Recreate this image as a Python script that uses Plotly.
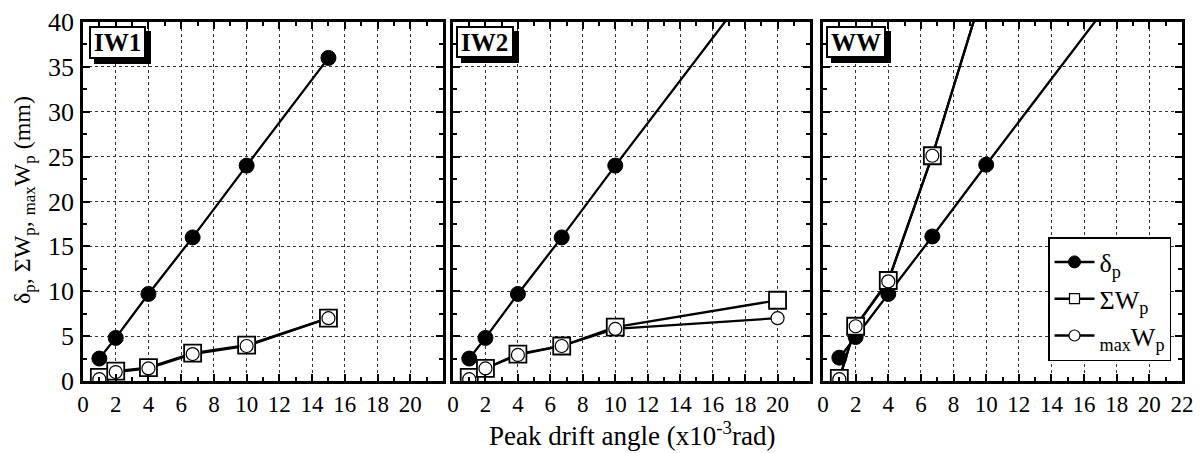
import plotly.graph_objects as go

# ---------------- data ----------------
panel_names = ["IW1", "IW2", "WW"]

x_iw1 = [1, 2, 4, 6.7, 10, 15]
dp_iw1 = [2.5, 4.8, 9.7, 16.0, 24.0, 36.0]
sw_iw1 = [0.4, 1.1, 1.5, 3.1, 4.0, 7.0]
mw_iw1 = [0.2, 1.0, 1.4, 3.0, 3.9, 7.0]

x_iw2 = [1, 2, 4, 6.7, 10, 20]
dp_iw2 = [2.5, 4.8, 9.7, 16.0, 24.0, 47.7]
sw_iw2 = [0.4, 1.4, 3.0, 3.9, 6.0, 9.0]
mw_iw2 = [0.2, 1.4, 2.9, 3.9, 5.8, 7.0]

x_ww = [1, 2, 4, 6.7, 10, 20]
dp_ww = [2.6, 4.9, 9.7, 16.1, 24.1, 48.0]
x_ww_w = [1, 2, 4, 6.7, 10]
sw_ww = [0.3, 6.1, 11.2, 25.1, 44.6]
mw_ww = [0.2, 6.1, 11.1, 25.1, 44.6]

x_ticks_12 = [0, 2, 4, 6, 8, 10, 12, 14, 16, 18, 20]
x_ticks_3 = [0, 2, 4, 6, 8, 10, 12, 14, 16, 18, 20, 22]
y_ticks = [0, 5, 10, 15, 20, 25, 30, 35, 40]

legend_names = ["δ<sub>p</sub>", "ΣW<sub>p</sub>", "<sub>max</sub>W<sub>p</sub>"]

panels = [
    (x_iw1, dp_iw1, x_iw1, sw_iw1, mw_iw1),
    (x_iw2, dp_iw2, x_iw2, sw_iw2, mw_iw2),
    (x_ww, dp_ww, x_ww_w, sw_ww, mw_ww),
]

FONT = "Liberation Serif"
fig = go.Figure()

for i, (xd, dp, xw, sw, mw) in enumerate(panels):
    xa = "x" if i == 0 else f"x{i+1}"
    ya = "y" if i == 0 else f"y{i+1}"
    line = dict(color="black", width=2.3)
    for xs, ys in ((xd, dp), (xw, sw), (xw, mw)):
        fig.add_trace(go.Scatter(x=xs, y=ys, mode="lines", line=line,
                                 xaxis=xa, yaxis=ya, showlegend=False,
                                 hoverinfo="skip"))
    fig.add_trace(go.Scatter(x=xd, y=dp, mode="markers", xaxis=xa, yaxis=ya,
                             marker=dict(symbol="circle", size=15, color="black",
                                         line=dict(color="black", width=1)),
                             showlegend=False))
    fig.add_trace(go.Scatter(x=xw, y=sw, mode="markers", xaxis=xa, yaxis=ya,
                             marker=dict(symbol="square", size=17, color="white",
                                         line=dict(color="black", width=1.8)),
                             showlegend=False))
    fig.add_trace(go.Scatter(x=xw, y=mw, mode="markers", xaxis=xa, yaxis=ya,
                             marker=dict(symbol="circle", size=13, color="white",
                                         line=dict(color="black", width=1.2)),
                             showlegend=False))

leg_markers = [
    dict(symbol="circle", size=12, color="black", line=dict(color="black", width=1)),
    dict(symbol="square", size=10, color="white", line=dict(color="black", width=1.2)),
    dict(symbol="circle", size=11, color="white", line=dict(color="black", width=1.2)),
]
for name, mk in zip(legend_names, leg_markers):
    fig.add_trace(go.Scatter(x=[None], y=[None], mode="lines+markers", name=name,
                             line=dict(color="black", width=2.5), marker=mk,
                             xaxis="x3", yaxis="y3", showlegend=True))

W, H = 1202, 453
ml, mr, mt, mb = 83, 20, 22, 72
pw = W - ml - mr
ph = H - mt - mb
px_dom = [(83, 443), (453, 810), (823, 1182)]

def dom(a, b):
    return [(a - ml) / pw, (b - ml) / pw]

def axis_common(fs):
    return dict(
        showline=True, linecolor="black", linewidth=2.8, mirror="allticks",
        ticks="inside", ticklen=7, tickwidth=2, tickcolor="black",
        showgrid=True, gridcolor="#333", gridwidth=1, griddash="dot",
        zeroline=False, tickfont=dict(family=FONT, size=fs, color="black"),
    )

layout = dict(
    template="none",
    width=W, height=H, margin=dict(l=ml, r=mr, t=mt, b=mb),
    plot_bgcolor="white", paper_bgcolor="white",
)

for i in range(3):
    xk = "xaxis" if i == 0 else f"xaxis{i+1}"
    yk = "yaxis" if i == 0 else f"yaxis{i+1}"
    ya = "y" if i == 0 else f"y{i+1}"
    xa = "x" if i == 0 else f"x{i+1}"
    xax = axis_common(23)
    xax.update(domain=dom(*px_dom[i]), range=[0, 22], anchor=ya,
               tickvals=x_ticks_3 if i == 2 else x_ticks_12,
               minor=dict(dtick=1, tick0=0, ticks="inside", ticklen=4,
                          tickwidth=1.6, tickcolor="black", showgrid=False))
    yax = axis_common(26)
    yax.update(domain=[0, 1], range=[0, 40], anchor=xa, tickvals=y_ticks,
               showticklabels=(i == 0), ticklabelstandoff=1,
               minor=dict(dtick=2.5, tick0=0, ticks="inside", ticklen=4,
                          tickwidth=1.6, tickcolor="black", showgrid=False))
    layout[xk] = xax
    layout[yk] = yax

fig.update_layout(**layout)

# panel labels: shadow + white box (pixel sized shapes) + bold text
boxes = [(90, 27, 55, 31), (457, 27, 56, 30), (827, 27, 58, 30)]
for i, name in enumerate(panel_names):
    xr = "x domain" if i == 0 else f"x{i+1} domain"
    yr = "y domain" if i == 0 else f"y{i+1} domain"
    left, top, w, h = boxes[i]
    pl, pr = px_dom[i]
    xanc = (left - pl) / (pr - pl)
    y0 = -(top - mt)
    for sh in (5, 0):
        fig.add_shape(type="rect", xref=xr, yref=yr, xsizemode="pixel", ysizemode="pixel",
                      xanchor=xanc, yanchor=1,
                      x0=sh, x1=sh + w, y0=y0 - sh, y1=y0 - h - sh,
                      fillcolor="black" if sh else "white",
                      line=dict(color="black", width=2), layer="above")
    fig.add_annotation(
        x=(left + w / 2 - pl) / (pr - pl), y=1 - (top + h / 2 - mt) / ph,
        xref=xr, yref=yr, xanchor="center", yanchor="middle",
        text=f"<b>{name}</b>", showarrow=False,
        font=dict(family=FONT, size=25, color="black"),
    )

fig.add_annotation(x=(632 - ml) / pw, y=(381 - 434) / ph, xref="paper", yref="paper",
                   text="Peak drift angle (x10<sup>-3</sup>rad)", showarrow=False,
                   font=dict(family=FONT, size=27, color="black"),
                   xanchor="center", yanchor="middle")
fig.add_annotation(x=(24 - ml) / pw, y=(381 - 200) / ph, xref="paper", yref="paper",
                   text="δ<sub>p</sub>, ΣW<sub>p</sub>, <sub>max</sub>W<sub>p</sub> (mm)",
                   showarrow=False, textangle=-90,
                   font=dict(family=FONT, size=24, color="black"),
                   xanchor="center", yanchor="middle")

fig.update_layout(
    font=dict(family=FONT, size=24, color="black"),
    legend=dict(
        x=(1048 - ml) / pw, y=(381 - 237) / ph, xanchor="left", yanchor="top",
        bgcolor="white", bordercolor="black", borderwidth=1.5,
        font=dict(family=FONT, size=26, color="black"),
        itemwidth=40, tracegroupgap=0,
    ))

fig.write_html("out.html")
